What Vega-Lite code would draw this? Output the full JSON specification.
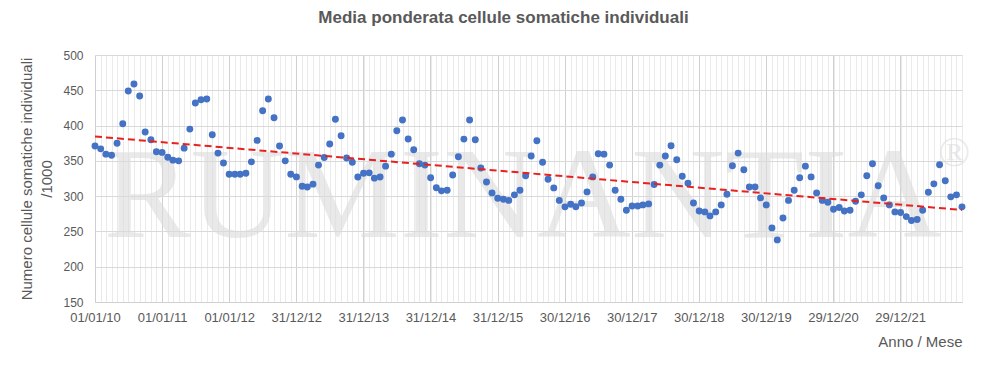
{
  "$schema": "https://vega.github.io/schema/vega-lite/v6.json",
  "width": 867,
  "height": 247,
  "autosize": {"type": "none"},
  "padding": {"left": 95, "top": 55, "right": 38, "bottom": 65},
  "background": "white",
  "title": {
    "text": "Media ponderata cellule somatiche individuali",
    "fontSize": 17,
    "font": "Liberation Sans",
    "fontWeight": "bold",
    "color": "#595959",
    "anchor": "middle",
    "dx": -25,
    "offset": 22
  },
  "config": {
    "view": {"stroke": null},
    "axis": {
      "labelFont": "Liberation Sans",
      "titleFont": "Liberation Sans",
      "labelColor": "#595959",
      "titleColor": "#595959",
      "titleFontWeight": "normal"
    }
  },
  "data": {
    "format": {"parse": {"d": "date"}},
    "values": [
      {"d": "2010-01-01", "v": 371}, {"d": "2010-02-01", "v": 367}, {"d": "2010-03-01", "v": 359.5}, {"d": "2010-04-01", "v": 358},
      {"d": "2010-05-01", "v": 375}, {"d": "2010-06-01", "v": 402.6}, {"d": "2010-07-01", "v": 449}, {"d": "2010-08-01", "v": 459},
      {"d": "2010-09-01", "v": 442}, {"d": "2010-10-01", "v": 391}, {"d": "2010-11-01", "v": 380}, {"d": "2010-12-01", "v": 363},
      {"d": "2011-01-01", "v": 362}, {"d": "2011-02-01", "v": 355}, {"d": "2011-03-01", "v": 351}, {"d": "2011-04-01", "v": 350},
      {"d": "2011-05-01", "v": 368}, {"d": "2011-06-01", "v": 395}, {"d": "2011-07-01", "v": 432}, {"d": "2011-08-01", "v": 436.6},
      {"d": "2011-09-01", "v": 437.6}, {"d": "2011-10-01", "v": 387}, {"d": "2011-11-01", "v": 361}, {"d": "2011-12-01", "v": 347},
      {"d": "2012-01-01", "v": 331}, {"d": "2012-02-01", "v": 331}, {"d": "2012-03-01", "v": 331}, {"d": "2012-04-01", "v": 332.5},
      {"d": "2012-05-01", "v": 348.6}, {"d": "2012-06-01", "v": 379}, {"d": "2012-07-01", "v": 421}, {"d": "2012-08-01", "v": 437.6},
      {"d": "2012-09-01", "v": 411}, {"d": "2012-10-01", "v": 371}, {"d": "2012-11-01", "v": 350}, {"d": "2012-12-01", "v": 331},
      {"d": "2013-01-01", "v": 327.3}, {"d": "2013-02-01", "v": 314}, {"d": "2013-03-01", "v": 313}, {"d": "2013-04-01", "v": 317},
      {"d": "2013-05-01", "v": 344}, {"d": "2013-06-01", "v": 354.8}, {"d": "2013-07-01", "v": 374}, {"d": "2013-08-01", "v": 409},
      {"d": "2013-09-01", "v": 385.5}, {"d": "2013-10-01", "v": 354}, {"d": "2013-11-01", "v": 348}, {"d": "2013-12-01", "v": 327},
      {"d": "2014-01-01", "v": 332.5}, {"d": "2014-02-01", "v": 333}, {"d": "2014-03-01", "v": 325.5}, {"d": "2014-04-01", "v": 327},
      {"d": "2014-05-01", "v": 342.5}, {"d": "2014-06-01", "v": 359.5}, {"d": "2014-07-01", "v": 392.6}, {"d": "2014-08-01", "v": 408},
      {"d": "2014-09-01", "v": 381}, {"d": "2014-10-01", "v": 365.7}, {"d": "2014-11-01", "v": 346}, {"d": "2014-12-01", "v": 344},
      {"d": "2015-01-01", "v": 326}, {"d": "2015-02-01", "v": 312}, {"d": "2015-03-01", "v": 307.5}, {"d": "2015-04-01", "v": 308.4},
      {"d": "2015-05-01", "v": 330}, {"d": "2015-06-01", "v": 355.7}, {"d": "2015-07-01", "v": 380.8}, {"d": "2015-08-01", "v": 408},
      {"d": "2015-09-01", "v": 380}, {"d": "2015-10-01", "v": 340}, {"d": "2015-11-01", "v": 320}, {"d": "2015-12-01", "v": 304.6},
      {"d": "2016-01-01", "v": 297}, {"d": "2016-02-01", "v": 295.6}, {"d": "2016-03-01", "v": 294}, {"d": "2016-04-01", "v": 301.8},
      {"d": "2016-05-01", "v": 308.4}, {"d": "2016-06-01", "v": 328.8}, {"d": "2016-07-01", "v": 357}, {"d": "2016-08-01", "v": 378.4},
      {"d": "2016-09-01", "v": 348}, {"d": "2016-10-01", "v": 324}, {"d": "2016-11-01", "v": 311.7}, {"d": "2016-12-01", "v": 294},
      {"d": "2017-01-01", "v": 284.8}, {"d": "2017-02-01", "v": 288.5}, {"d": "2017-03-01", "v": 285}, {"d": "2017-04-01", "v": 290.4},
      {"d": "2017-05-01", "v": 306}, {"d": "2017-06-01", "v": 327.3}, {"d": "2017-07-01", "v": 360}, {"d": "2017-08-01", "v": 359.5},
      {"d": "2017-09-01", "v": 344}, {"d": "2017-10-01", "v": 308.4}, {"d": "2017-11-01", "v": 295.6}, {"d": "2017-12-01", "v": 280},
      {"d": "2018-01-01", "v": 286}, {"d": "2018-02-01", "v": 286}, {"d": "2018-03-01", "v": 287.6}, {"d": "2018-04-01", "v": 289},
      {"d": "2018-05-01", "v": 316.5}, {"d": "2018-06-01", "v": 344}, {"d": "2018-07-01", "v": 357}, {"d": "2018-08-01", "v": 371.3},
      {"d": "2018-09-01", "v": 351.5}, {"d": "2018-10-01", "v": 328.3}, {"d": "2018-11-01", "v": 318.4}, {"d": "2018-12-01", "v": 290.4},
      {"d": "2019-01-01", "v": 279}, {"d": "2019-02-01", "v": 277.7}, {"d": "2019-03-01", "v": 272}, {"d": "2019-04-01", "v": 277.7},
      {"d": "2019-05-01", "v": 287.6}, {"d": "2019-06-01", "v": 302.7}, {"d": "2019-07-01", "v": 343}, {"d": "2019-08-01", "v": 361},
      {"d": "2019-09-01", "v": 337.3}, {"d": "2019-10-01", "v": 313}, {"d": "2019-11-01", "v": 313}, {"d": "2019-12-01", "v": 297.5},
      {"d": "2020-01-01", "v": 287.6}, {"d": "2020-02-01", "v": 255}, {"d": "2020-03-01", "v": 238}, {"d": "2020-04-01", "v": 269},
      {"d": "2020-05-01", "v": 294}, {"d": "2020-06-01", "v": 308.4}, {"d": "2020-07-01", "v": 326}, {"d": "2020-08-01", "v": 342.5},
      {"d": "2020-09-01", "v": 327.3}, {"d": "2020-10-01", "v": 304.6}, {"d": "2020-11-01", "v": 294}, {"d": "2020-12-01", "v": 291.4},
      {"d": "2021-01-01", "v": 281.5}, {"d": "2021-02-01", "v": 283.8}, {"d": "2021-03-01", "v": 279}, {"d": "2021-04-01", "v": 280},
      {"d": "2021-05-01", "v": 292.8}, {"d": "2021-06-01", "v": 301.8}, {"d": "2021-07-01", "v": 328.8}, {"d": "2021-08-01", "v": 345.8},
      {"d": "2021-09-01", "v": 314.6}, {"d": "2021-10-01", "v": 297.5}, {"d": "2021-11-01", "v": 287.6}, {"d": "2021-12-01", "v": 277.7},
      {"d": "2022-01-01", "v": 276.7}, {"d": "2022-02-01", "v": 271}, {"d": "2022-03-01", "v": 265.4}, {"d": "2022-04-01", "v": 266.8},
      {"d": "2022-05-01", "v": 280}, {"d": "2022-06-01", "v": 305.6}, {"d": "2022-07-01", "v": 317.4}, {"d": "2022-08-01", "v": 344.4},
      {"d": "2022-09-01", "v": 321.7}, {"d": "2022-10-01", "v": 299}, {"d": "2022-11-01", "v": 301.8}, {"d": "2022-12-01", "v": 284.8}
    ]
  },
  "layer": [
    {
      "data": {"values": [{"t": "RUMINANTIA"}]},
      "mark": {"type": "text", "font": "Liberation Serif", "fontSize": 130, "color": "#dcdcdc", "opacity": 0.6, "align": "center", "baseline": "alphabetic"},
      "encoding": {
        "text": {"field": "t"},
        "x": {
          "datum": {"year": 2016, "month": 5, "date": 15, "utc": true},
          "type": "temporal",
          "axis": {
            "orient": "top",
            "tickCount": {"interval": "month", "step": 1},
            "grid": true,
            "gridColor": "#d9d9d9",
            "gridOpacity": 0.55,
            "labels": false,
            "ticks": false,
            "domain": false,
            "title": null
          }
        },
        "y": {"datum": 242, "type": "quantitative", "axis": null}
      }
    },
    {
      "data": {"values": [{"t": "®"}]},
      "mark": {"type": "text", "font": "Liberation Serif", "fontSize": 42, "color": "#dcdcdc", "opacity": 0.6, "align": "center", "baseline": "middle"},
      "encoding": {
        "text": {"field": "t"},
        "x": {"datum": {"year": 2022, "month": 10, "date": 19, "utc": true}, "type": "temporal", "axis": null},
        "y": {"datum": 361, "type": "quantitative", "axis": null}
      }
    },
    {
      "mark": {"type": "point", "filled": true, "color": "#4472c4", "size": 48, "opacity": 1},
      "encoding": {
        "x": {
          "field": "d",
          "type": "temporal",
          "scale": {
            "type": "utc",
            "nice": false,
            "domain": [{"year": 2010, "month": 1, "date": 1, "utc": true}, {"year": 2022, "month": 12, "date": 1, "utc": true}]
          },
          "axis": {
            "values": [
              {"year": 2010, "month": 1, "date": 1, "utc": true},
              {"year": 2011, "month": 1, "date": 1, "utc": true},
              {"year": 2012, "month": 1, "date": 1, "utc": true},
              {"year": 2012, "month": 12, "date": 31, "utc": true},
              {"year": 2013, "month": 12, "date": 31, "utc": true},
              {"year": 2014, "month": 12, "date": 31, "utc": true},
              {"year": 2015, "month": 12, "date": 31, "utc": true},
              {"year": 2016, "month": 12, "date": 30, "utc": true},
              {"year": 2017, "month": 12, "date": 30, "utc": true},
              {"year": 2018, "month": 12, "date": 30, "utc": true},
              {"year": 2019, "month": 12, "date": 30, "utc": true},
              {"year": 2020, "month": 12, "date": 29, "utc": true},
              {"year": 2021, "month": 12, "date": 29, "utc": true}
            ],
            "format": "%d/%m/%y",
            "grid": true,
            "gridColor": "#d0d0d0",
            "domain": true,
            "domainColor": "#d0d0d0",
            "ticks": false,
            "labelFontSize": 13,
            "labelPadding": 9,
            "labelFlush": false,
            "labelOverlap": false,
            "title": "Anno / Mese",
            "titleFontSize": 15,
            "titleAnchor": "end",
            "titlePadding": 10
          }
        },
        "y": {
          "field": "v",
          "type": "quantitative",
          "scale": {"domain": [150, 500], "nice": false, "zero": false},
          "axis": {
            "values": [150, 200, 250, 300, 350, 400, 450, 500],
            "grid": true,
            "gridColor": "#d9d9d9",
            "domain": false,
            "ticks": false,
            "labelFontSize": 12,
            "labelPadding": 12,
            "labelOverlap": false,
            "title": ["Numero cellule somatiche individuali", "/1000"],
            "titleFontSize": 15,
            "titleLineHeight": 20,
            "titlePadding": 8
          }
        }
      }
    },
    {
      "transform": [{"regression": "v", "on": "d"}],
      "mark": {"type": "line", "color": "#e8211f", "strokeDash": [7, 4], "strokeWidth": 2},
      "encoding": {
        "x": {"field": "d", "type": "temporal", "axis": null},
        "y": {"field": "v", "type": "quantitative", "axis": null}
      }
    }
  ],
  "resolve": {"axis": {"x": "independent", "y": "independent"}}
}
